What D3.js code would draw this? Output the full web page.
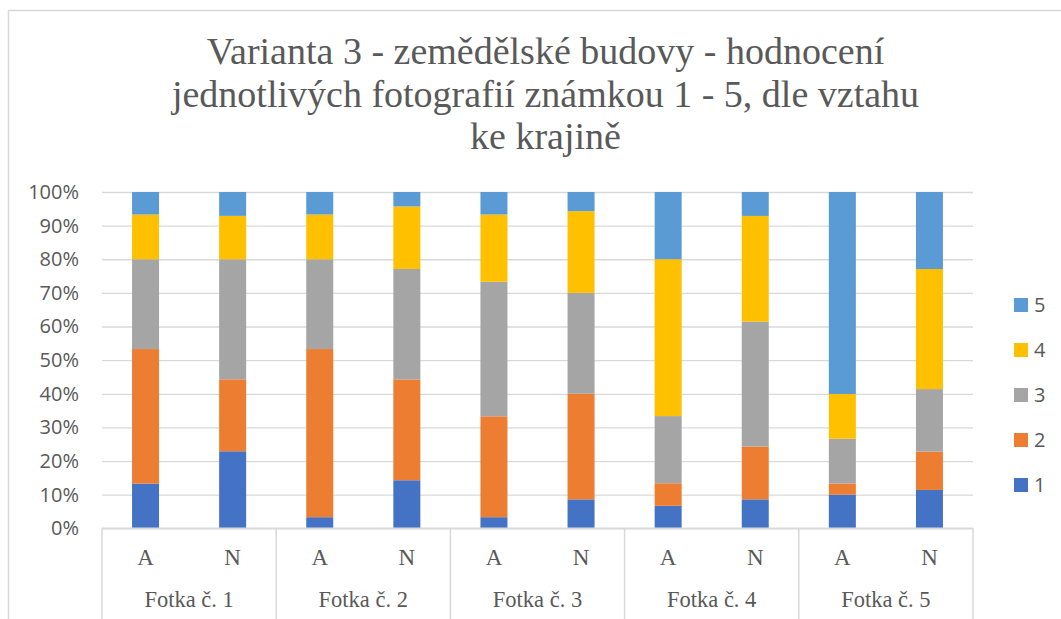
<!DOCTYPE html>
<html>
<head>
<meta charset="utf-8">
<script src="https://cdn.jsdelivr.net/npm/d3@7"></script>
<style>
  body { margin: 0; background: #fff; }
  svg { display: block; }
</style>
</head>
<body>
<script>
// data (percent of answers per grade)
const groups = ['Fotka č. 1', 'Fotka č. 2', 'Fotka č. 3', 'Fotka č. 4', 'Fotka č. 5'];
const subs = ['A', 'N'];
const grades = ['1', '2', '3', '4', '5'];
const grade1 = [13.3, 22.9, 3.3, 14.3, 3.3, 8.6, 6.7, 8.6, 10.0, 11.4];
const grade2 = [40.0, 21.4, 50.0, 30.0, 30.0, 31.4, 6.7, 15.7, 3.3, 11.4];
const grade3 = [26.7, 35.7, 26.7, 32.9, 40.0, 30.0, 20.0, 37.1, 13.3, 18.6];
const grade4 = [13.3, 12.9, 13.3, 18.6, 20.0, 24.3, 46.7, 31.4, 13.3, 35.7];
const grade5 = [6.7, 7.1, 6.7, 4.3, 6.7, 5.7, 20.0, 7.1, 60.0, 22.9];
const yTicks = [0, 0.1, 0.2, 0.3, 0.4, 0.5, 0.6, 0.7, 0.8, 0.9, 1];
const titleLines = ['Varianta 3 - zemědělské budovy - hodnocení',
                    'jednotlivých fotografií známkou 1 - 5, dle vztahu',
                    'ke krajině'];

const colors = {'1': '#4472C4', '2': '#ED7D31', '3': '#A5A5A5', '4': '#FFC000', '5': '#5B9BD5'};
const series = [grade1, grade2, grade3, grade4, grade5];

// build rows for stacking
const rows = [];
groups.forEach(function(g, gi) {
  subs.forEach(function(s, si) {
    const row = {group: g, sub: s};
    grades.forEach(function(k, ki) { row[k] = series[ki][gi * 2 + si]; });
    rows.push(row);
  });
});

const w = 1061, h = 619;
const plotL = 102, plotR = 973, plotT = 192, plotB = 528.3;
const grid = '#D9D9D9', textCol = '#595959';

const svg = d3.select('body').append('svg')
  .attr('width', w)
  .attr('height', h);

// chart frame (only top/left edge visible in the picture)
svg.append('path')
  .attr('d', 'M8.5,' + h + 'V10.5H' + w)
  .attr('fill', 'none')
  .attr('stroke', grid)
  .attr('stroke-width', 1.5);

// title
svg.append('text')
  .attr('x', 545.5)
  .attr('y', 64)
  .attr('text-anchor', 'middle')
  .style('font-family', '"Liberation Serif", "Times New Roman", serif')
  .style('font-size', '38px')
  .attr('fill', textCol)
  .selectAll('tspan')
  .data(titleLines)
  .enter()
  .append('tspan')
  .attr('x', 545.5)
  .attr('dy', (d, i) => i === 0 ? 0 : 42.5)
  .text(d => d);

const yScale = d3.scaleLinear().domain([0, 1]).range([plotB, plotT]);
const xGroup = d3.scaleBand().domain(groups).range([plotL, plotR]);
const xSub = d3.scaleBand().domain(subs)
  .range([0, xGroup.bandwidth()])
  .paddingInner(0.69)
  .paddingOuter(0.345);

// gridlines + y axis labels
const yAxis = d3.axisLeft(yScale)
  .tickValues(yTicks)
  .tickFormat(d3.format('.0%'))
  .tickSize(-(plotR - plotL))
  .tickPadding(23);

const yg = svg.append('g')
  .attr('transform', 'translate(' + plotL + ',0)')
  .call(yAxis);
yg.select('.domain').remove();
yg.selectAll('line').attr('stroke', grid).attr('stroke-width', 1.3);
yg.selectAll('text')
  .attr('fill', textCol)
  .style('font-family', '"Open Sans", sans-serif')
  .style('font-size', '20px');

// stacked bars
const stack = d3.stack().keys(grades).offset(d3.stackOffsetExpand);
const layers = stack(rows);

svg.append('g')
  .selectAll('g')
  .data(layers)
  .enter()
  .append('g')
  .attr('fill', d => colors[d.key])
  .selectAll('rect')
  .data(d => d)
  .enter()
  .append('rect')
  .attr('x', d => xGroup(d.data.group) + xSub(d.data.sub))
  .attr('width', xSub.bandwidth())
  .attr('y', d => yScale(d[1]))
  .attr('height', d => yScale(d[0]) - yScale(d[1]));

// category axis (two levels)
svg.append('line')
  .attr('x1', plotL).attr('x2', plotR)
  .attr('y1', plotB).attr('y2', plotB)
  .attr('stroke', grid).attr('stroke-width', 1.5);

const seps = groups.map(g => xGroup(g)).concat([plotR]);
svg.append('g')
  .selectAll('line')
  .data(seps)
  .enter()
  .append('line')
  .attr('x1', d => d).attr('x2', d => d)
  .attr('y1', plotB).attr('y2', h)
  .attr('stroke', grid).attr('stroke-width', 1.5);

const catFont = '"Liberation Serif", "Times New Roman", serif';
svg.append('g')
  .selectAll('text')
  .data(rows)
  .enter()
  .append('text')
  .attr('x', d => xGroup(d.group) + xSub(d.sub) + xSub.bandwidth() / 2)
  .attr('y', 565)
  .attr('text-anchor', 'middle')
  .attr('fill', textCol)
  .style('font-family', catFont)
  .style('font-size', '23px')
  .text(d => d.sub);

svg.append('g')
  .selectAll('text')
  .data(groups)
  .enter()
  .append('text')
  .attr('x', d => xGroup(d) + xGroup.bandwidth() / 2)
  .attr('y', 607)
  .attr('text-anchor', 'middle')
  .attr('fill', textCol)
  .style('font-family', catFont)
  .style('font-size', '22.5px')
  .text(d => d);

// legend, 5 on top
const legendKeys = grades.slice().reverse();
const legend = svg.append('g')
  .selectAll('g')
  .data(legendKeys)
  .enter()
  .append('g')
  .attr('transform', (d, i) => 'translate(1014,' + (305 + i * 45) + ')');

legend.append('rect')
  .attr('x', 0).attr('y', -7)
  .attr('width', 14).attr('height', 14)
  .attr('fill', d => colors[d]);

legend.append('text')
  .attr('x', 20)
  .attr('y', 0)
  .attr('dy', '0.35em')
  .attr('fill', textCol)
  .style('font-family', '"Open Sans", sans-serif')
  .style('font-size', '20px')
  .text(d => d);
</script>
</body>
</html>
